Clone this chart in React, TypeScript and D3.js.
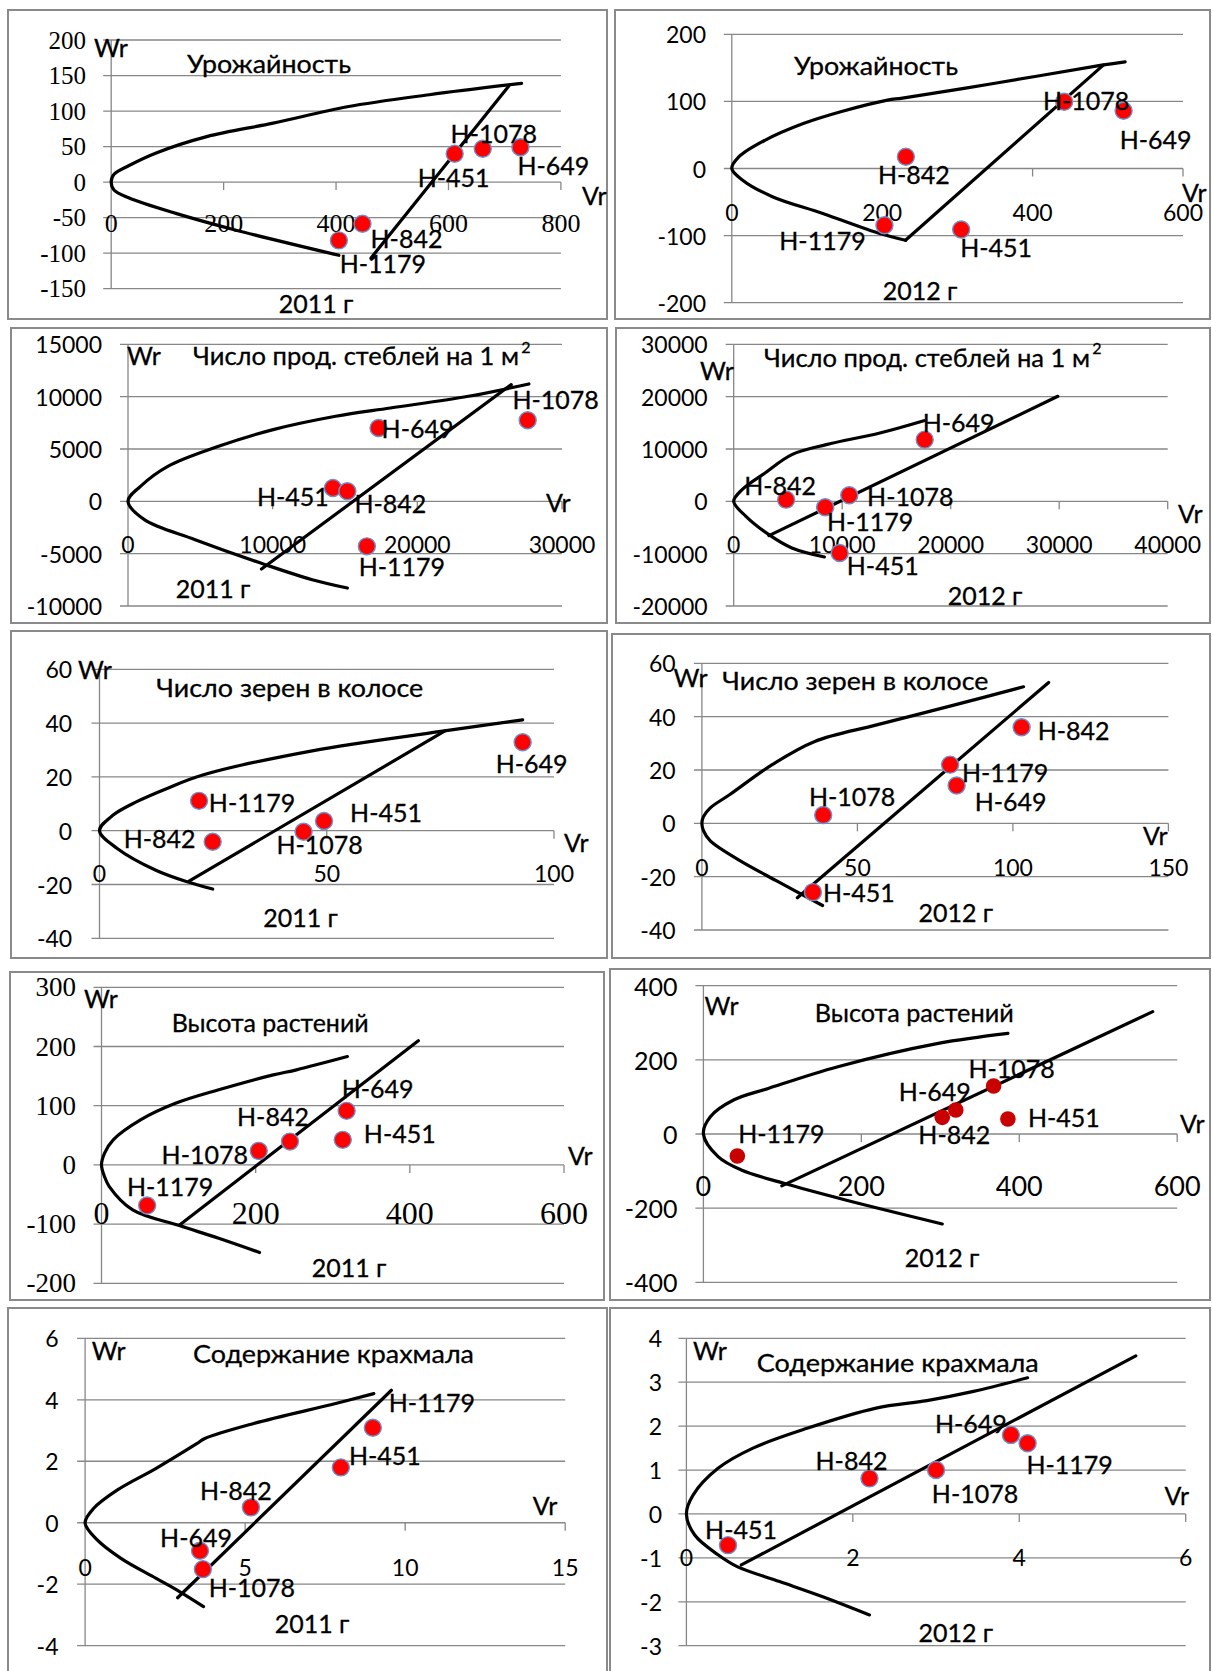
import React from "react";
import * as d3 from "d3";

// Genotypes, in the order used by every Vr / Wr array below
const genotypes = ["Н-451", "Н-649", "Н-842", "Н-1078", "Н-1179"];

// ---- Урожайность, 2011 ----
const yield2011Vr = [611, 728, 447, 661, 405];
const yield2011Wr = [40, 49, -58.5, 47, -82];
const yield2011Parabola = [[730, 139], [566, 123], [420, 106], [288, 83], [170, 64], [80, 41], [31, 23], [5, 11], [0, 0], [5, -11], [31, -22], [115, -44], [219, -67], [405, -103]];
const yield2011Regression = [[462, -107], [707, 135]];
const yield2011XTicks = [0, 200, 400, 600, 800];
const yield2011YTicks = [200, 150, 100, 50, 0, -50, -100, -150];

// ---- Урожайность, 2012 ----
const yield2012Vr = [305, 521, 231.5, 442, 203];
const yield2012Wr = [-91, 86, 17.4, 99.5, -84.6];
const yield2012Parabola = [[523, 159], [492, 154], [350, 127], [227, 105], [207, 102], [146, 85], [95, 67], [44, 42], [9, 17], [0, 0], [14, -17], [54, -42], [121, -67], [197, -97], [231, -107]];
const yield2012Regression = [[231, -107], [494, 154]];
const yield2012XTicks = [0, 200, 400, 600];
const yield2012YTicks = [200, 100, 0, -100, -200];

// ---- Число продуктивных стеблей на 1 м², 2011 ----
const stems2011Vr = [14164, 17320, 15162, 27627, 16511];
const stems2011Wr = [1274, 7007, 955, 7740, -4300];
const stems2011Parabola = [[27708, 11211], [23527, 10033], [18130, 8918], [14353, 8122], [10036, 6848], [6259, 5255], [2752, 3344], [863, 1433], [0, 0], [1133, -1752], [4640, -3663], [9497, -6052], [12735, -7485], [15163, -8281]];
const stems2011Regression = [[9227, -6466], [26494, 11148]];
const stems2011XTicks = [0, 10000, 20000, 30000];
const stems2011YTicks = [15000, 10000, 5000, 0, -5000, -10000];

// ---- Число продуктивных стеблей на 1 м², 2012 ----
const stems2012Vr = [9770, 17600, 4832, 10652, 8430];
const stems2012Wr = [-9874, 11785, 318, 1147, -1147];
const stems2012Parabola = [[17530, 15400], [13473, 13059], [8535, 10829], [5361, 8918], [2892, 5415], [776, 2230], [0, 0], [1129, -2867], [3245, -6370], [5361, -8918], [8359, -10638]];
const stems2012Regression = [[3245, -6561], [29873, 20066]];
const stems2012XTicks = [0, 10000, 20000, 30000, 40000];
const stems2012YTicks = [30000, 20000, 10000, 0, -10000, -20000];

// ---- Число зерен в колосе, 2011 ----
const grains2011Vr = [49.4, 93.1, 24.9, 44.9, 21.9];
const grains2011Wr = [3.6, 32.9, -4.1, -0.4, 11.1];
const grains2011Parabola = [[93.1, 41.2], [75.1, 36.9], [46.8, 29.7], [22.7, 20.7], [15, 15.8], [8.2, 10.8], [3, 5.8], [0, 0], [3.9, -6.6], [12.4, -14.7], [19.3, -19], [24.9, -21.7]];
const grains2011Regression = [[19.7, -18.75], [76, 37.1]];
const grains2011XTicks = [0, 50, 100];
const grains2011YTicks = [60, 40, 20, 0, -20, -40];

// ---- Число зерен в колосе, 2012 ----
const grains2012Vr = [35.7, 81.9, 102.8, 39.0, 79.8];
const grains2012Wr = [-25.8, 14.2, 36.0, 3.1, 22.0];
const grains2012Parabola = [[103.4, 51.2], [81, 44.3], [56.2, 36.9], [36.3, 30.7], [22.6, 22], [9, 10.8], [2.7, 5.8], [0.5, 2.5], [0, 0], [0.5, -2.7], [2.7, -6.6], [11.4, -13.4], [23.9, -21.5], [38.8, -30.8]];
const grains2012Regression = [[30.7, -27.9], [111.5, 52.8]];
const grains2012XTicks = [0, 50, 100, 150];
const grains2012YTicks = [60, 40, 20, 0, -20, -40];

// ---- Высота растений, 2011 ----
const height2011Vr = [313, 318, 244.5, 204, 59.2];
const height2011Wr = [42.3, 91.3, 39.4, 23.7, -68.7];
const height2011Parabola = [[319, 183], [253, 160.6], [222.8, 152], [152, 126.8], [96, 104], [50.6, 76], [15.2, 42.3], [4, 20], [0, 0], [4, -20], [10.1, -36.6], [40.5, -76], [101, -102.5], [152, -124], [205, -148]];
const height2011Regression = [[101.3, -101.4], [411, 209.6]];
const height2011XTicks = [0, 200, 400, 600];
const height2011YTicks = [300, 200, 100, 0, -100, -200];

// ---- Высота растений, 2012 ----
const height2012Vr = [385.6, 319.6, 302.5, 367.5, 43];
const height2012Wr = [40.4, 64.7, 44.9, 129.4, -59.3];
const height2012Parabola = [[385.6, 271.5], [297.5, 244.5], [170.3, 181.6], [82.2, 123], [38.2, 91.7], [8.8, 46.7], [0, 0], [18.6, -61], [48, -97], [101.8, -133], [180, -178], [302.5, -242.7]];
const height2012Regression = [[99.3, -140], [569, 330]];
const height2012XTicks = [0, 200, 400, 600];
const height2012YTicks = [400, 200, 0, -200, -400];

// ---- Содержание крахмала, 2011 ----
const starch2011Vr = [7.99, 3.59, 5.18, 3.68, 8.99];
const starch2011Wr = [1.8, -0.91, 0.5, -1.51, 3.09];
const starch2011Parabola = [[9.02, 4.2], [7.83, 3.88], [5.27, 3.23], [3.74, 2.74], [3.5, 2.58], [2.22, 1.77], [1.0, 1.06], [0.27, 0.47], [0, 0], [0.33, -0.51], [1.12, -1.16], [2.22, -1.81], [2.95, -2.24], [3.7, -2.73]];
const starch2011Regression = [[2.89, -2.44], [9.57, 4.31]];
const starch2011XTicks = [0, 5, 10, 15];
const starch2011YTicks = [6, 4, 2, 0, -2, -4];

// ---- Содержание крахмала, 2012 ----
const starch2012Vr = [0.5, 3.9, 2.2, 3.0, 4.1];
const starch2012Wr = [-0.71, 1.8, 0.81, 1.0, 1.61];
const starch2012Parabola = [[4.1, 3.1], [3.45, 2.79], [2.89, 2.58], [2.28, 2.41], [1.45, 1.95], [0.8, 1.5], [0.38, 1.04], [0.08, 0.43], [0, 0], [0.1, -0.48], [0.38, -0.93], [0.61, -1.2], [1.12, -1.54], [1.63, -1.88], [2.2, -2.3]];
const starch2012Regression = [[0.66, -1.16], [5.4, 3.6]];
const starch2012XTicks = [0, 2, 4, 6];
const starch2012YTicks = [4, 3, 2, 1, 0, -1, -2, -3];

const SANS = "Lato, 'Noto Sans', sans-serif";
const SERIF = "'Liberation Serif', 'Times New Roman', serif";
const GRID = "#878787";

type Pt = number[];

interface Layout {
  box: number[];
  x: number[];
  y: number[];
  yLabelX: number;
  xLabelY: number;
  serif?: boolean;
  yTickSize: number;
  xTickSize: number;
  title: number[];
  titleWidth: number;
  year: number[];
  wr: number[] | null;
  vr: number[];
  offsets: number[][];
  darkDots?: boolean;
}

interface PanelSpec {
  title: string;
  sup?: boolean;
  year: string;
  vr: number[];
  wr: number[];
  parabola: Pt[];
  regression: Pt[];
  xTicks: number[];
  yTicks: number[];
  layout: Layout;
}

const STEMS = "Число прод. стеблей на 1 м";

const panels: PanelSpec[] = [
  {
    title: "Урожайность", year: "2011 г",
    vr: yield2011Vr, wr: yield2011Wr, parabola: yield2011Parabola, regression: yield2011Regression,
    xTicks: yield2011XTicks, yTicks: yield2011YTicks,
    layout: {
      box: [8, 10, 607, 319], x: [111.2, 560.9], y: [40, 288.7],
      yLabelX: 86, xLabelY: 223, serif: true, yTickSize: 25, xTickSize: 26,
      title: [269, 63], titleWidth: 164, year: [316, 303], wr: [94, 47], vr: [582, 195],
      offsets: [[-1, 23], [33, 18], [44, 14], [11, -16], [44, 23]],
    },
  },
  {
    title: "Урожайность", year: "2012 г",
    vr: yield2012Vr, wr: yield2012Wr, parabola: yield2012Parabola, regression: yield2012Regression,
    xTicks: yield2012XTicks, yTicks: yield2012YTicks,
    layout: {
      box: [615, 10, 1210, 319], x: [731.8, 1183], y: [34.3, 302.7],
      yLabelX: 706, xLabelY: 211.7, yTickSize: 23, xTickSize: 23,
      title: [876, 65], titleWidth: 164, year: [920, 290], wr: null, vr: [1182, 192],
      offsets: [[35, 17], [32, 28], [8, 17], [22, -2], [-62, 15]],
    },
  },
  {
    title: STEMS, sup: true, year: "2011 г",
    vr: stems2011Vr, wr: stems2011Wr, parabola: stems2011Parabola, regression: stems2011Regression,
    xTicks: stems2011XTicks, yTicks: stems2011YTicks,
    layout: {
      box: [11, 328, 607, 623], x: [128, 562], y: [344.3, 606],
      yLabelX: 102, xLabelY: 544, yTickSize: 23, xTickSize: 23,
      title: [362, 355], titleWidth: 338, year: [213, 588], wr: [127, 355], vr: [546, 502],
      offsets: [[-40, 8], [39, 0], [43, 12], [28, -21], [35, 20]],
    },
  },
  {
    title: STEMS, sup: true, year: "2012 г",
    vr: stems2012Vr, wr: stems2012Wr, parabola: stems2012Parabola, regression: stems2012Regression,
    xTicks: stems2012XTicks, yTicks: stems2012YTicks,
    layout: {
      box: [616, 328, 1210, 623], x: [733.7, 1167.7], y: [344.3, 606],
      yLabelX: 707.7, xLabelY: 544, yTickSize: 23, xTickSize: 23,
      title: [933, 356.7], titleWidth: 338, year: [985, 595], wr: [700, 370], vr: [1178, 513],
      offsets: [[43, 12], [34, -18], [-6, -15], [61, 1], [45, 14]],
    },
  },
  {
    title: "Число зерен в колосе", year: "2011 г",
    vr: grains2011Vr, wr: grains2011Wr, parabola: grains2011Parabola, regression: grains2011Regression,
    xTicks: grains2011XTicks, yTicks: grains2011YTicks,
    layout: {
      box: [11, 631, 607, 958], x: [99.5, 554], y: [669.3, 938.3],
      yLabelX: 72.2, xLabelY: 873.3, yTickSize: 23, xTickSize: 23,
      title: [289.8, 686.7], titleWidth: 267, year: [300.5, 916.7], wr: [78, 669], vr: [564, 841.7],
      offsets: [[62, -9], [9, 21], [-53, -4], [16, 12], [53, 1]],
    },
  },
  {
    title: "Число зерен в колосе", year: "2012 г",
    vr: grains2012Vr, wr: grains2012Wr, parabola: grains2012Parabola, regression: grains2012Regression,
    xTicks: grains2012XTicks, yTicks: grains2012YTicks,
    layout: {
      box: [612, 634, 1210, 958], x: [701.9, 1168.4], y: [663.3, 930],
      yLabelX: 675.6, xLabelY: 866.7, yTickSize: 23, xTickSize: 23,
      title: [855.3, 680], titleWidth: 266, year: [955.8, 911.7], wr: [673.6, 676.7], vr: [1143, 835],
      offsets: [[46, 0], [54, 16], [52, 3], [29, -19], [55, 7]],
    },
  },
  {
    title: "Высота растений", year: "2011 г",
    vr: height2011Vr, wr: height2011Wr, parabola: height2011Parabola, regression: height2011Regression,
    xTicks: height2011XTicks, yTicks: height2011YTicks,
    layout: {
      box: [10, 972, 604, 1300], x: [101.5, 564], y: [987.3, 1283.3],
      yLabelX: 76.1, xLabelY: 1213.3, serif: true, yTickSize: 27, xTickSize: 32,
      title: [270.2, 1021.7], titleWidth: 197, year: [349, 1266.7], wr: [84, 998.3], vr: [568, 1155],
      offsets: [[57, -7], [31, -23], [-17, -26], [-54, 3], [23, -20]],
    },
  },
  {
    title: "Высота растений", year: "2012 г",
    vr: height2012Vr, wr: height2012Wr, parabola: height2012Parabola, regression: height2012Regression,
    xTicks: height2012XTicks, yTicks: height2012YTicks,
    layout: {
      box: [610, 969, 1210, 1300], x: [703.4, 1177.2], y: [985.7, 1282.3],
      yLabelX: 677.5, xLabelY: 1185, yTickSize: 25, xTickSize: 27,
      title: [914.2, 1011.7], titleWidth: 199, year: [942, 1256.7], wr: [704.6, 1005], vr: [1180, 1123.3],
      offsets: [[56, -2], [-21, -19], [12, 17], [18, -18], [44, -23]],
      darkDots: true,
    },
  },
  {
    title: "Содержание крахмала", year: "2011 г",
    vr: starch2011Vr, wr: starch2011Wr, parabola: starch2011Parabola, regression: starch2011Regression,
    xTicks: starch2011XTicks, yTicks: starch2011YTicks,
    layout: {
      box: [8, 1308, 607, 1690], x: [85.1, 565.2], y: [1338.3, 1645.7],
      yLabelX: 58.5, xLabelY: 1566.7, yTickSize: 23, xTickSize: 23,
      title: [333.5, 1353.3], titleWidth: 281, year: [312, 1623.3], wr: [91.7, 1350], vr: [532.8, 1505],
      offsets: [[44, -12], [-4, -14], [-15, -17], [49, 18], [59, -26]],
    },
  },
  {
    title: "Содержание крахмала", year: "2012 г",
    vr: starch2012Vr, wr: starch2012Wr, parabola: starch2012Parabola, regression: starch2012Regression,
    xTicks: starch2012XTicks, yTicks: starch2012YTicks,
    layout: {
      box: [610, 1308, 1210, 1690], x: [686.4, 1185.7], y: [1338.3, 1645.7],
      yLabelX: 662, xLabelY: 1556.7, yTickSize: 23, xTickSize: 23,
      title: [897.8, 1361.7], titleWidth: 282, year: [955.8, 1631.7], wr: [693, 1350], vr: [1164.5, 1495],
      offsets: [[13, -16], [-40, -12], [-18, -18], [39, 23], [42, 21]],
    },
  },
];

function Panel({ p }: { p: PanelSpec }) {
  const L = p.layout;
  const xs = d3.scaleLinear().domain([p.xTicks[0], p.xTicks[p.xTicks.length - 1]]).range(L.x);
  const ys = d3.scaleLinear().domain([p.yTicks[0], p.yTicks[p.yTicks.length - 1]]).range(L.y);
  const smooth = d3.line<Pt>().x((d) => xs(d[0])).y((d) => ys(d[1])).curve(d3.curveCatmullRom.alpha(0.5));
  const straight = d3.line<Pt>().x((d) => xs(d[0])).y((d) => ys(d[1]));
  const x0 = xs(0);
  const y0 = ys(0);
  const tickFont = L.serif ? SERIF : SANS;
  const txt = { fontFamily: SANS, fontSize: 25, fill: "#000", stroke: "#000", strokeWidth: 0.3 };

  return (
    <g>
      <rect x={L.box[0]} y={L.box[1]} width={L.box[2] - L.box[0]} height={L.box[3] - L.box[1]}
        fill="#fff" stroke="#8a8a8a" strokeWidth={2} />
      {p.yTicks.map((v) => (
        <line key={"g" + v} x1={x0 - 8} x2={L.x[1]} y1={ys(v)} y2={ys(v)} stroke={GRID} strokeWidth={1.3} />
      ))}
      <line x1={x0} x2={x0} y1={L.y[0]} y2={L.y[1]} stroke={GRID} strokeWidth={1.3} />
      {p.xTicks.slice(1).map((v) => (
        <line key={"t" + v} x1={xs(v)} x2={xs(v)} y1={y0} y2={y0 + 8} stroke={GRID} strokeWidth={1.3} />
      ))}
      {p.yTicks.map((v) => (
        <text key={"yl" + v} x={L.yLabelX} y={ys(v)} textAnchor="end" dominantBaseline="central"
          fontFamily={tickFont} fontSize={L.yTickSize}>{String(v)}</text>
      ))}
      {p.xTicks.map((v) => (
        <text key={"xl" + v} x={xs(v)} y={L.xLabelY} textAnchor="middle" dominantBaseline="central"
          fontFamily={tickFont} fontSize={L.xTickSize}>{String(v)}</text>
      ))}
      <path d={smooth(p.parabola) || ""} fill="none" stroke="#000" strokeWidth={3.2} strokeLinejoin="round" strokeLinecap="round" />
      <path d={straight(p.regression) || ""} fill="none" stroke="#000" strokeWidth={3.2} strokeLinecap="round" />
      {p.vr.map((v, i) => (
        <circle key={"c" + i} cx={xs(v)} cy={ys(p.wr[i])}
          r={L.darkDots ? 7.8 : 8.5}
          fill={L.darkDots ? "#c80000" : "#ff0000"}
          stroke={L.darkDots ? "none" : "#6a92cf"} strokeWidth={1.4} />
      ))}
      {p.vr.map((v, i) => (
        <text key={"n" + i} x={xs(v) + L.offsets[i][0]} y={ys(p.wr[i]) + L.offsets[i][1]}
          textAnchor="middle" dominantBaseline="central" {...txt}>{genotypes[i]}</text>
      ))}
      {p.sup ? (
        <g>
          <text x={L.title[0] - 6} y={L.title[1]} textAnchor="middle" dominantBaseline="central"
            textLength={L.titleWidth - 12} lengthAdjust="spacingAndGlyphs" {...txt}>{p.title}</text>
          <text x={L.title[0] + L.titleWidth / 2 - 5} y={L.title[1] - 9} textAnchor="middle"
            dominantBaseline="central" {...txt} fontSize={16}>2</text>
        </g>
      ) : (
        <text x={L.title[0]} y={L.title[1]} textAnchor="middle" dominantBaseline="central"
          textLength={L.titleWidth} lengthAdjust="spacingAndGlyphs" {...txt}>{p.title}</text>
      )}
      <text x={L.year[0]} y={L.year[1]} textAnchor="middle" dominantBaseline="central" {...txt}>{p.year}</text>
      {L.wr ? <text x={L.wr[0]} y={L.wr[1]} dominantBaseline="central" {...txt}>Wr</text> : null}
      <text x={L.vr[0]} y={L.vr[1]} dominantBaseline="central" {...txt}>Vr</text>
    </g>
  );
}

export default function App() {
  return (
    <div style={{ position: "absolute", left: 0, top: 0, width: 1212, height: 1671, background: "#fff" }}>
      <svg width={1212} height={1671} viewBox="0 0 1212 1671" style={{ display: "block" }}>
        <rect x={0} y={0} width={1212} height={1671} fill="#fff" />
        {panels.map((p, i) => (
          <Panel key={i} p={p} />
        ))}
      </svg>
    </div>
  );
}
